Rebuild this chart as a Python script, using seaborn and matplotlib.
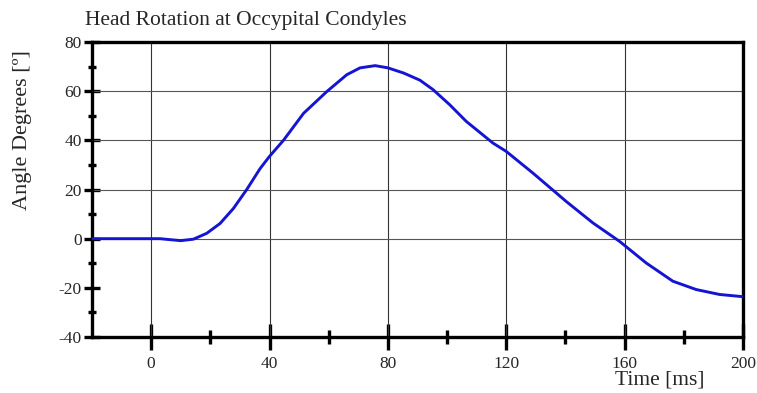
import seaborn as sns
import matplotlib.pyplot as plt
from matplotlib.ticker import FixedLocator
import pandas as pd

# Head rotation curve
time_ms = [-20, 0, 3, 6.4, 10, 14.3, 18.8, 23.3, 27.8, 32.3, 36.8, 40, 44.7,
           51.5, 59.4, 66.1, 70.6, 75.7, 80, 85.3, 90.8, 95.2, 100.8, 106.5,
           115.5, 120, 129, 136.9, 140.3, 149.3, 158.3, 167.3, 176.3, 184.2,
           192.1, 200]
angle_deg = [0, 0, 0, -0.4, -0.8, -0.2, 2.2, 6.2, 12.3, 20, 28.5, 33.5, 40,
             51, 59.9, 66.7, 69.5, 70.4, 69.5, 67.4, 64.5, 60.7, 54.6, 47.7,
             38.9, 35.5, 26.7, 18.6, 15.1, 6.4, -1.1, -9.9, -17.3, -20.7,
             -22.7, -23.6]

x_major = [0, 40, 80, 120, 160, 200]
x_minor = [20, 60, 100, 140, 180]
y_major = [-40, -20, 0, 20, 40, 60, 80]
y_minor = [-30, -10, 10, 30, 50, 70]

sns.set_style('white')
plt.rcParams['font.family'] = ['Liberation Serif', 'DejaVu Serif']
plt.rcParams['axes.unicode_minus'] = False

df = pd.DataFrame({'Time': time_ms, 'Angle': angle_deg})

fig = plt.figure(figsize=(7.57, 3.93), dpi=100)
ax = fig.add_axes([0.1215, 0.1425, 0.86, 0.7505])

# grid first so the curve sits on top
for xv in x_major[:-1]:
    ax.axvline(xv, color='#333333', lw=0.8, zorder=1)
for yv in [0, 20, 40, 60]:
    ax.axhline(yv, color='#555555', lw=0.8, zorder=1)

sns.lineplot(data=df, x='Time', y='Angle', color='#1414d2', linewidth=2.1,
             ax=ax, zorder=3)

ax.set_xlim(-20, 200)
ax.set_ylim(-40, 80)
ax.xaxis.set_major_locator(FixedLocator(x_major))
ax.xaxis.set_minor_locator(FixedLocator(x_minor))
ax.yaxis.set_major_locator(FixedLocator(y_major))
ax.yaxis.set_minor_locator(FixedLocator(y_minor))

for side in ['left', 'bottom', 'top', 'right']:
    ax.spines[side].set_linewidth(2.4)
    ax.spines[side].set_color('black')

ax.tick_params(axis='x', which='major', bottom=True, direction='inout',
               length=19, width=2.4, pad=4, labelsize=12.5, color='black')
ax.tick_params(axis='x', which='minor', bottom=True, direction='inout',
               length=9.5, width=2.4, color='black')
ax.tick_params(axis='y', which='major', left=True, direction='inout',
               length=11, width=2.4, pad=2, labelsize=12.5, color='black')
ax.tick_params(axis='y', which='minor', left=True, direction='inout',
               length=5.5, width=2.4, color='black')

ax.set_xlabel('')
ax.set_ylabel('')
fig.text(0.03, 0.668, 'Angle Degrees [º]', rotation=90, fontsize=16,
         ha='center', va='center')
fig.text(0.872, 0.033, 'Time [ms]', fontsize=15.5, ha='center', va='center')
fig.text(0.112, 0.948, 'Head Rotation at Occypital Condyles', fontsize=15.5,
         ha='left', va='center')

fig.savefig('out.png', dpi=100)
